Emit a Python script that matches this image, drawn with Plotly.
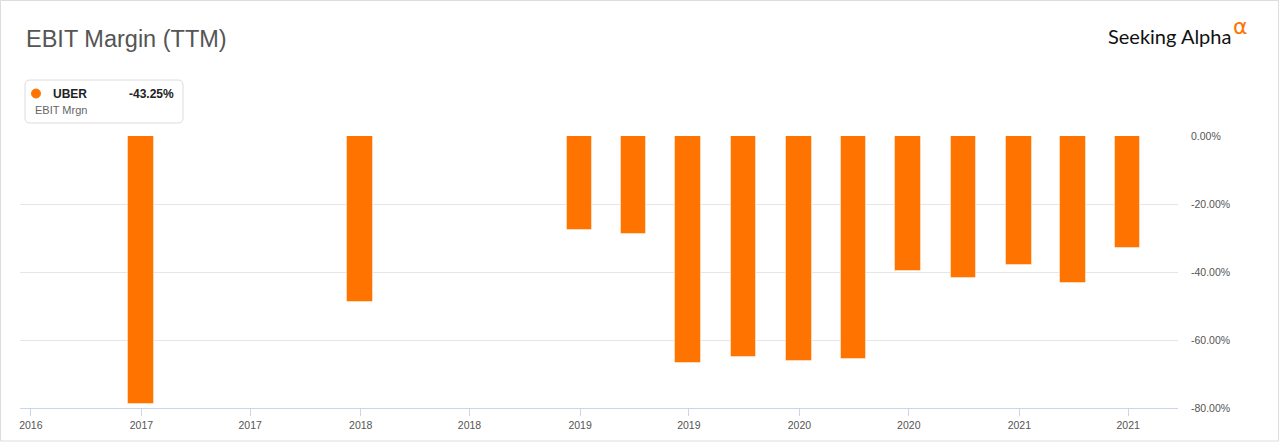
import plotly.graph_objects as go

# EBIT margin (TTM), UBER
period_end = ["2016-12-31", "2017-12-31", "2018-12-31", "2019-03-31", "2019-06-30",
              "2019-09-30", "2019-12-31", "2020-03-31", "2020-06-30", "2020-09-30",
              "2020-12-31", "2021-03-31", "2021-06-30"]
ebit_margin = [-78.7, -48.8, -27.5, -28.9, -66.7, -64.9, -66.1, -65.5,
               -39.8, -41.9, -38.0, -43.25, -32.8]

x_tickvals = ["2016-07-01", "2017-01-01", "2017-07-01", "2018-01-01", "2018-07-01",
              "2019-01-01", "2019-07-01", "2020-01-01", "2020-07-01", "2021-01-01",
              "2021-07-01"]
x_ticktext = ["2016", "2017", "2017", "2018", "2018", "2019", "2019", "2020", "2020",
              "2021", "2021"]
y_tickvals = [0, -20, -40, -60, -80]
y_ticktext = ["0.00%", "-20.00%", "-40.00%", "-60.00%", "-80.00%"]

W, H = 1280, 442
L, R, T, B = 20, 1178, 136, 408   # plot area in pixels
ORANGE = "#ff7400"
FONT = "Liberation Sans, Arial, sans-serif"


def px(x):
    return (x - L) / (R - L)


def py(y):
    return (B - y) / (B - T)


def rounded_box(x0, y0, x1, y1, r):
    pts = [
        f"M {px(x0 + r)} {py(y0)}",
        f"L {px(x1 - r)} {py(y0)}",
        f"Q {px(x1)} {py(y0)} {px(x1)} {py(y0 + r)}",
        f"L {px(x1)} {py(y1 - r)}",
        f"Q {px(x1)} {py(y1)} {px(x1 - r)} {py(y1)}",
        f"L {px(x0 + r)} {py(y1)}",
        f"Q {px(x0)} {py(y1)} {px(x0)} {py(y1 - r)}",
        f"L {px(x0)} {py(y0 + r)}",
        f"Q {px(x0)} {py(y0)} {px(x0 + r)} {py(y0)}",
        "Z",
    ]
    return " ".join(pts)


fig = go.Figure()
fig.add_trace(go.Bar(
    x=period_end, y=ebit_margin,
    width=43 * 86400000,
    marker=dict(color=ORANGE, line=dict(color="rgba(255,255,255,0.45)", width=1)),
    name="UBER",
))

shapes = [
    # outer frame
    dict(type="rect", xref="paper", yref="paper",
         x0=px(0.5), x1=px(W - 1.5), y0=py(0.5), y1=py(H - 1),
         line=dict(color="#dddddd", width=1), fillcolor="rgba(0,0,0,0)", layer="below"),
    # legend box
    dict(type="path", xref="paper", yref="paper", path=rounded_box(25, 80, 183, 123, 5),
         line=dict(color="#dcdcdc", width=1), fillcolor="white"),
    # legend marker
    dict(type="circle", xref="paper", yref="paper",
         x0=px(31.5), x1=px(40.5), y0=py(89), y1=py(98),
         line=dict(color=ORANGE, width=1), fillcolor=ORANGE),
]

annotations = [
    dict(text="EBIT Margin (TTM)", x=px(24), y=py(39), xref="paper", yref="paper",
         xanchor="left", yanchor="middle", showarrow=False,
         font=dict(family=FONT, size=23.5, color="#555555")),
    dict(text="Seeking Alpha", x=px(1233), y=py(36), xref="paper", yref="paper",
         xanchor="right", yanchor="middle", showarrow=False,
         font=dict(family="Lato, sans-serif", size=20, color="#111111")),
    dict(text="α", x=px(1231), y=py(26), xref="paper", yref="paper",
         xanchor="left", yanchor="middle", showarrow=False,
         font=dict(family="DejaVu Sans, sans-serif", size=22, color=ORANGE)),
    dict(text="<b>UBER</b>", x=px(51), y=py(94), xref="paper", yref="paper",
         xanchor="left", yanchor="middle", showarrow=False,
         font=dict(family=FONT, size=12, color="#222222")),
    dict(text="<b>-43.25%</b>", x=px(176), y=py(94), xref="paper", yref="paper",
         xanchor="right", yanchor="middle", showarrow=False,
         font=dict(family=FONT, size=12, color="#222222")),
    dict(text="EBIT Mrgn", x=px(33), y=py(110), xref="paper", yref="paper",
         xanchor="left", yanchor="middle", showarrow=False,
         font=dict(family=FONT, size=11, color="#666666")),
]

fig.update_layout(
    width=W, height=H,
    margin=dict(l=L, r=W - R, t=T, b=H - B, pad=0),
    paper_bgcolor="white", plot_bgcolor="white",
    showlegend=False,
    bargap=0,
    shapes=shapes,
    annotations=annotations,
    font=dict(family=FONT, size=10, color="#666666"),
)
fig.update_xaxes(
    type="date", range=["2016-06-13", "2021-09-22"],
    tickmode="array", tickvals=x_tickvals, ticktext=x_ticktext,
    showgrid=False, showline=True, linecolor="#ccd6eb", linewidth=1,
    ticks="outside", ticklen=7, tickcolor="#ccd6eb", tickwidth=1,
    tickfont=dict(family=FONT, size=10.5, color="#555555"),
)
fig.update_yaxes(
    side="right", range=[-80, 0],
    tickmode="array", tickvals=y_tickvals, ticktext=y_ticktext,
    showgrid=True, gridcolor="#e6e6e6", gridwidth=1,
    zeroline=False, showline=False, ticks="",
    ticklabelstandoff=12,
    tickfont=dict(family=FONT, size=10.5, color="#555555"),
)

fig.write_html("out.html", config={"displayModeBar": False},
               post_script="document.body.style.margin='0';")
